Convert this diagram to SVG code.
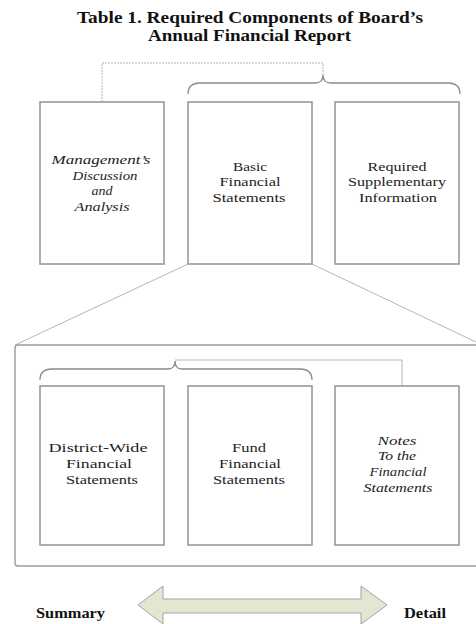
<svg xmlns="http://www.w3.org/2000/svg" width="476" height="624" viewBox="0 0 476 624">
<style>
.title{font-family:"Liberation Serif","Times New Roman",serif;font-weight:bold;font-size:16px;fill:#111}
.t{font-family:"Liberation Serif","Times New Roman",serif;font-size:12.5px;fill:#222;text-anchor:middle}
.i{font-style:italic}
.box{fill:#fff;stroke:#9a9a9a;stroke-width:1.6}
.ln{fill:none;stroke:#b5b5b5;stroke-width:1}
.br{fill:none;stroke:#8a8a8a;stroke-width:1.3}
.lbl{font-family:"Liberation Serif","Times New Roman",serif;font-weight:bold;font-size:14px;fill:#111}
</style>
<rect width="476" height="624" fill="#fff"/>
<g id="title">
<text class="title" x="77" y="23" textLength="346" lengthAdjust="spacingAndGlyphs">Table 1. Required Components of Board’s</text>
<text class="title" x="148" y="41" textLength="203" lengthAdjust="spacingAndGlyphs">Annual Financial Report</text>
</g>
<g id="connectors">
<path class="ln" d="M102,102 V63 H323 V75" stroke-dasharray="2 1"/>
<path class="br" d="M188,94 Q188,83 200,83 H315 Q323,83 323,75 Q323,83 331,83 H448 Q460,83 460,94"/>
<path class="ln" d="M188,264 L15,345"/>
<path class="ln" d="M312,264 L476,342"/>
<path class="br" d="M40,380 Q40,369 52,369 H168 Q175,369 175,361 Q175,369 182,369 H300 Q312,369 312,380"/>
<path class="ln" d="M175,360 H402 V386"/>
</g>
<g id="frame">
<rect x="15" y="345" width="470" height="221" rx="3" fill="none" stroke="#9a9a9a" stroke-width="1.4"/>
</g>
<g id="mda">
<rect class="box" x="40" y="102" width="124" height="162"/>
<text class="t i" x="101" y="164" textLength="99" lengthAdjust="spacingAndGlyphs">Management’s</text>
<text class="t i" x="105" y="180" textLength="65" lengthAdjust="spacingAndGlyphs">Discussion</text>
<text class="t i" x="102" y="195" textLength="21" lengthAdjust="spacingAndGlyphs">and</text>
<text class="t i" x="102" y="211" textLength="55" lengthAdjust="spacingAndGlyphs">Analysis</text>
</g>
<g id="bfs">
<rect class="box" x="188" y="102" width="124" height="162"/>
<text class="t" x="250" y="171" textLength="34" lengthAdjust="spacingAndGlyphs">Basic</text>
<text class="t" x="250" y="186" textLength="61" lengthAdjust="spacingAndGlyphs">Financial</text>
<text class="t" x="249" y="202" textLength="73" lengthAdjust="spacingAndGlyphs">Statements</text>
</g>
<g id="rsi">
<rect class="box" x="335" y="102" width="124" height="162"/>
<text class="t" x="397" y="171" textLength="59" lengthAdjust="spacingAndGlyphs">Required</text>
<text class="t" x="397" y="186" textLength="98" lengthAdjust="spacingAndGlyphs">Supplementary</text>
<text class="t" x="398" y="202" textLength="78" lengthAdjust="spacingAndGlyphs">Information</text>
</g>
<g id="dwfs">
<rect class="box" x="40" y="386" width="124" height="159"/>
<text class="t" x="98" y="452" textLength="99" lengthAdjust="spacingAndGlyphs">District-Wide</text>
<text class="t" x="99" y="468" textLength="66" lengthAdjust="spacingAndGlyphs">Financial</text>
<text class="t" x="102" y="484" textLength="72" lengthAdjust="spacingAndGlyphs">Statements</text>
</g>
<g id="ffs">
<rect class="box" x="188" y="386" width="124" height="159"/>
<text class="t" x="249" y="452" textLength="34" lengthAdjust="spacingAndGlyphs">Fund</text>
<text class="t" x="250" y="468" textLength="62" lengthAdjust="spacingAndGlyphs">Financial</text>
<text class="t" x="249" y="484" textLength="72" lengthAdjust="spacingAndGlyphs">Statements</text>
</g>
<g id="notes">
<rect class="box" x="335" y="386" width="124" height="159"/>
<text class="t i" x="397" y="445" textLength="39" lengthAdjust="spacingAndGlyphs">Notes</text>
<text class="t i" x="397" y="460" textLength="38" lengthAdjust="spacingAndGlyphs">To the</text>
<text class="t i" x="398" y="476" textLength="57" lengthAdjust="spacingAndGlyphs">Financial</text>
<text class="t i" x="398" y="492" textLength="69" lengthAdjust="spacingAndGlyphs">Statements</text>
</g>
<g id="scale">
<polygon points="138,605 163,586 163,599 361,599 361,586 387,605 361,624 361,613 163,613 163,624" fill="#e2e7d2" stroke="#a3a3a3" stroke-width="1"/>
<text class="lbl" x="36" y="618" textLength="69" lengthAdjust="spacingAndGlyphs">Summary</text>
<text class="lbl" x="404" y="618" textLength="42" lengthAdjust="spacingAndGlyphs">Detail</text>
</g>
</svg>
